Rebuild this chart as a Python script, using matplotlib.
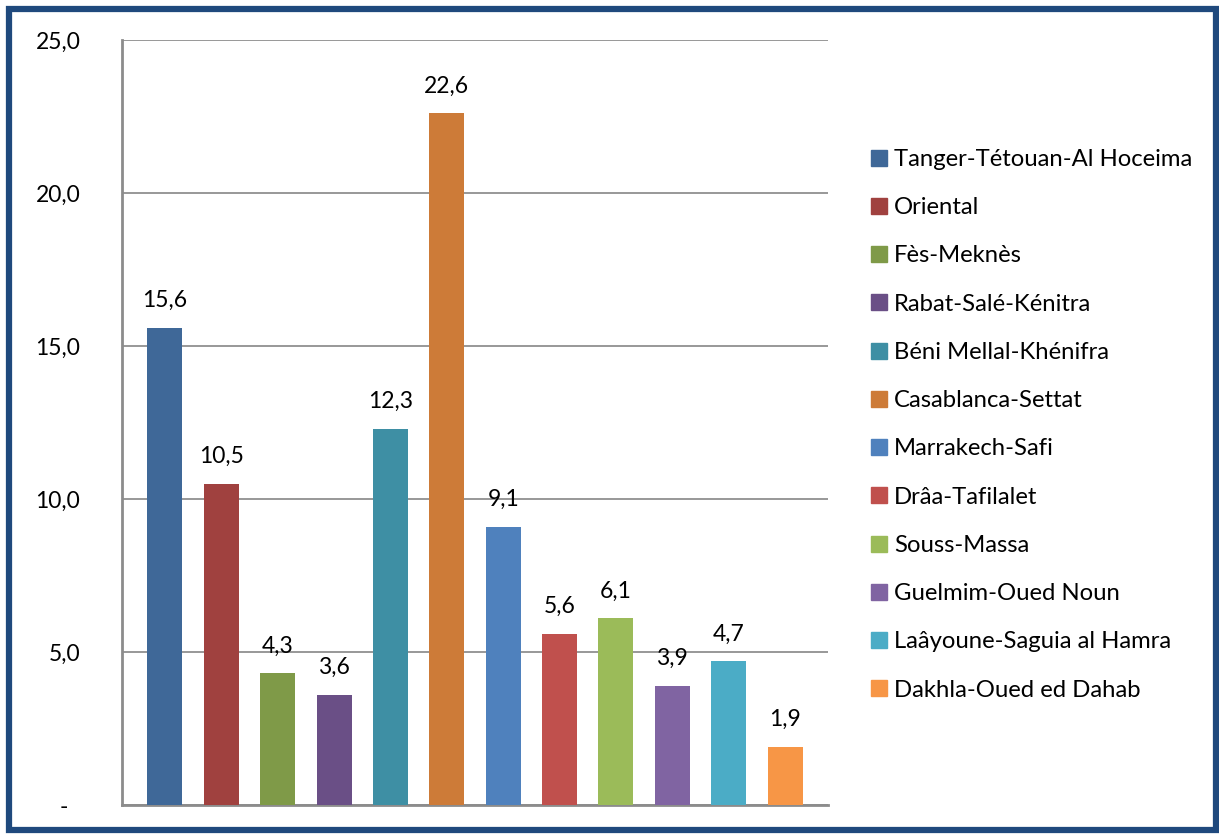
import matplotlib.pyplot as plt
from matplotlib.patches import Rectangle
from matplotlib.lines import Line2D

plt.rcParams['font.family'] = ['Lato', 'DejaVu Sans']

regions = ['Tanger-Tétouan-Al Hoceima', 'Oriental', 'Fès-Meknès', 'Rabat-Salé-Kénitra',
           'Béni Mellal-Khénifra', 'Casablanca-Settat', 'Marrakech-Safi', 'Drâa-Tafilalet',
           'Souss-Massa', 'Guelmim-Oued Noun', 'Laâyoune-Saguia al Hamra', 'Dakhla-Oued ed Dahab']
values = [15.6, 10.5, 4.3, 3.6, 12.3, 22.6, 9.1, 5.6, 6.1, 3.9, 4.7, 1.9]
colors = ['#3F6898', '#A0413F', '#7F9A48', '#6A4F86', '#3E8FA4', '#CD7B38',
          '#4F81BD', '#C0504D', '#9BBB59', '#8064A2', '#4BACC6', '#F79646']
yticks = [0, 5, 10, 15, 20, 25]
ytick_labels = ['-  ', '5,0', '10,0', '15,0', '20,0', '25,0']

fig = plt.figure(figsize=(12.19, 8.35), dpi=100)
ax = fig.add_axes([0.1001, 0.0359, 0.5791, 0.9162])

x = list(range(len(values)))
ax.bar(x, values, width=0.62, color=colors, zorder=3)
for xi, v in zip(x, values):
    ax.annotate(f'{v:.1f}'.replace('.', ','), (xi, v), xytext=(0, 12),
                textcoords='offset points', ha='center', va='bottom', fontsize=16.5)

ax.set_xlim(-0.76, 11.76)
ax.set_ylim(0, 25)
ax.set_yticks(yticks)
ax.set_yticklabels(ytick_labels, fontsize=16.5)
ax.set_xticks([])
ax.tick_params(axis='y', length=0, pad=30)
ax.yaxis.grid(True, color='#868686', linewidth=1.2, zorder=0)
for s in ['top', 'right']:
    ax.spines[s].set_visible(False)
for s in ['left', 'bottom']:
    ax.spines[s].set_color('#8c8c8c')
    ax.spines[s].set_linewidth(2)

handles = [Line2D([], [], marker='s', linestyle='none', markersize=11,
                  markerfacecolor=c, markeredgecolor=c) for c in colors]
fig.legend(handles, regions, loc='upper left', bbox_to_anchor=(0.705, 0.833),
           frameon=False, fontsize=17.2, labelspacing=1.14, handletextpad=0.2,
           handlelength=0.85, borderaxespad=0)

fig.patches.append(Rectangle((0.0075, 0.006), 0.99, 0.983, transform=fig.transFigure,
                             fill=False, edgecolor='#1F497D', linewidth=4.5))

fig.savefig('out.png', dpi=100)
